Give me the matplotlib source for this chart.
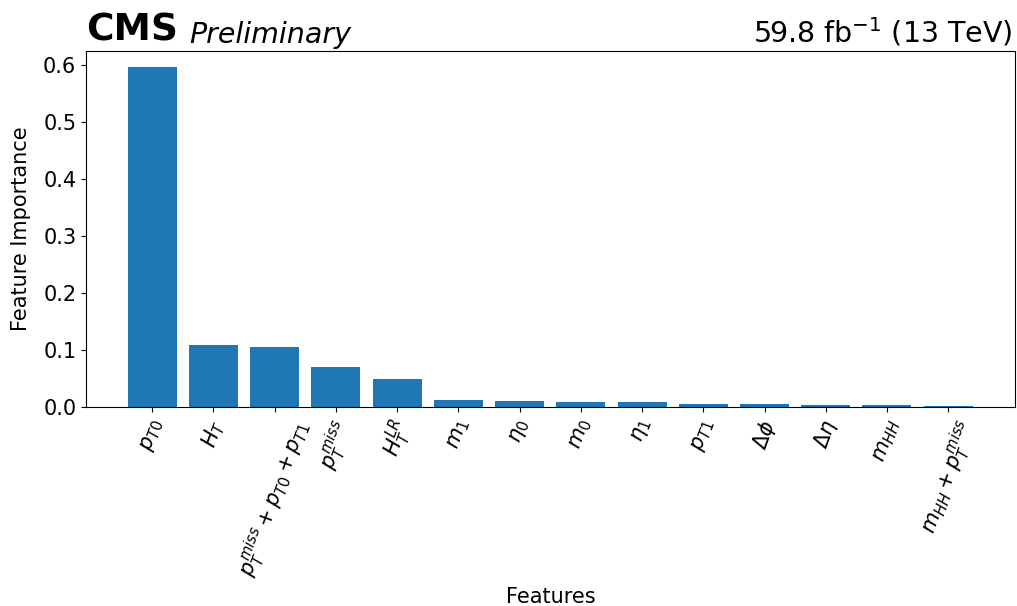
import matplotlib
matplotlib.use("Agg")
import matplotlib.pyplot as plt

features = [r'$p_{T0}$', r'$H_T$', r'$p_T^{miss} + p_{T0} + p_{T1}$', r'$p_T^{miss}$',
            r'$H_T^{LR}$', r'$m_1$', r'$\eta_0$', r'$m_0$', r'$\eta_1$', r'$p_{T1}$',
            r'$\Delta\phi$', r'$\Delta\eta$', r'$m_{HH}$', r'$m_{HH} + p_T^{miss}$']
importance = [0.597, 0.109, 0.105, 0.070, 0.049, 0.013, 0.011, 0.0085, 0.008,
              0.005, 0.005, 0.003, 0.0028, 0.0026]

fig = plt.figure(figsize=(10.17, 6.06), dpi=100)
ax = fig.add_axes([0.0846, 0.3284, 0.9134, 0.5879])
x = list(range(len(features)))
ax.bar(x, importance, width=0.8, color='#1f77b4')
ax.set_xticks(x)
ax.set_xticklabels(features, rotation=70, fontsize=15)
ax.set_xlim(-1.08, 14.09)
ax.set_ylim(0, 0.6255)
ax.tick_params(axis='y', labelsize=15)
ax.set_ylabel('Feature Importance', fontsize=15, labelpad=9)
ax.set_xlabel('Features', fontsize=15)
ax.text(0.0, 1.006, 'CMS', transform=ax.transAxes, fontsize=27, fontweight='bold',
        ha='left', va='bottom')
ax.text(0.111, 1.006, 'Preliminary', transform=ax.transAxes, fontsize=20.5, style='italic',
        ha='left', va='bottom')
ax.text(0.997, 1.006, r'59.8 fb$^{-1}$ (13 TeV)', transform=ax.transAxes, fontsize=20.5,
        ha='right', va='bottom')
fig.savefig('out.png', dpi=100)
